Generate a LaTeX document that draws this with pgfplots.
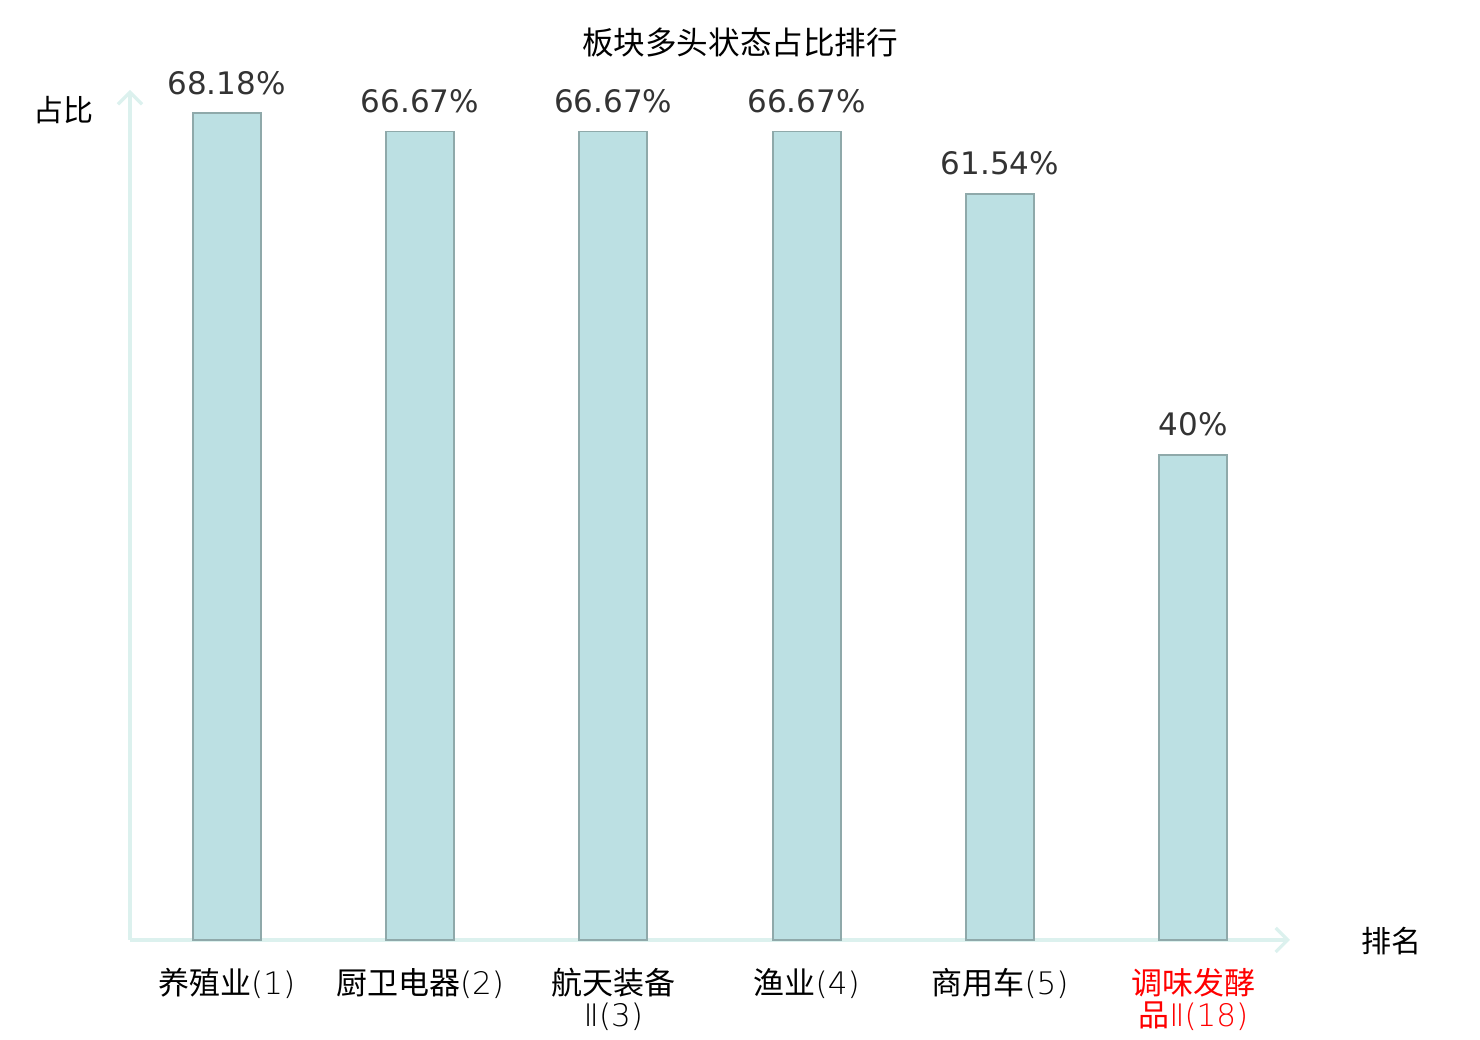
\documentclass[border=0pt]{standalone}
\usepackage{pgfplots}
\pgfplotsset{compat=1.18}
\usepackage{fontspec}
\setmainfont{DejaVu Sans}
\newfontfamily\cjk{Noto Sans CJK SC}
\newfontfamily\thin{DejaVu Sans ExtraLight}
\usetikzlibrary{arrows.meta}
\definecolor{barfill}{HTML}{BCE0E3}
\definecolor{bardraw}{HTML}{8FA9AA}
\definecolor{axcol}{HTML}{DCF1EE}
\definecolor{valcol}{HTML}{333333}
\newcommand{\tl}[1]{{\thin #1}}
\begin{document}
\begin{tikzpicture}[x=0.5pt,y=0.5pt]
\path[use as bounding box] (0,0) rectangle (1480,1040);
\begin{axis}[
  at={(65pt,50pt)}, anchor=south west,
  scale only axis,
  width=580pt, height=425pt,
  xmin=-0.5, xmax=5.5, ymin=0, ymax=70.1,
  axis x line=bottom, axis y line=left,
  axis line style={axcol, line width=1.6pt, -{Straight Barb[length=6pt,width=12pt]}},
  ytick=\empty,
  xtick={0,1,2,3,4,5},
  xticklabels={养殖业\tl{(1)}, 厨卫电器\tl{(2)}, {航天装备\\\tl{Ⅱ(3)}}, 渔业\tl{(4)}, 商用车\tl{(5)}, {\textcolor{red}{调味发酵}\\\textcolor{red}{品\tl{Ⅱ(18)}}}},
  xticklabel style={font=\cjk\fontsize{15.5}{16}\selectfont, align=center, anchor=north, yshift=-10.5pt, text=black},
  major tick length=0pt,
  tick style={draw=none},
  ybar, bar width=34pt,
  nodes near coords={\pgfmathprintnumber[fixed,precision=2,assume math mode=true]{\pgfplotspointmeta}\%},
  every node near coord/.append style={font=\fontsize{15.5}{16}\selectfont, text=valcol, yshift=5.5pt},
  clip=false,
]
\addplot[fill=barfill, draw=bardraw, line width=0.9pt] coordinates {
(0,68.18) (1,66.67) (2,66.67) (3,66.67) (4,61.54) (5,40)
};
\end{axis}
\node[font=\cjk\fontsize{15.8}{16}\selectfont] at (740,998) {板块多头状态占比排行};
\node[font=\cjk\fontsize{15}{16}\selectfont] at (63,930) {占比};
\node[font=\cjk\fontsize{15}{16}\selectfont] at (1391,99) {排名};
\end{tikzpicture}
\end{document}
